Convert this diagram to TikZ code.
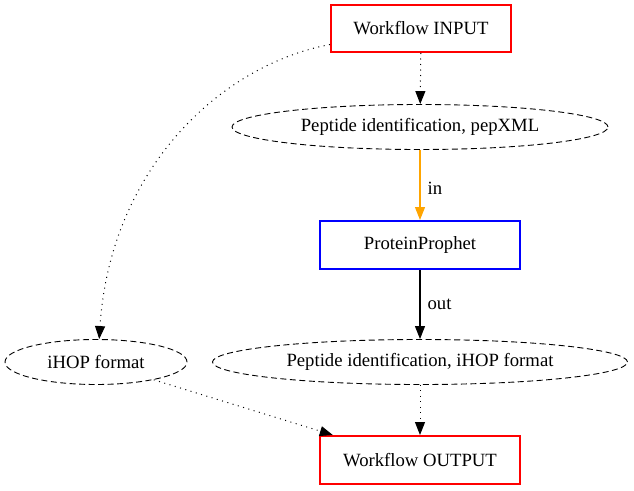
\documentclass[tikz,border=0pt]{standalone}
\usepackage{fontspec}
\setmainfont{Liberation Serif}
\usetikzlibrary{shapes.geometric,arrows.meta}
\definecolor{edgeorange}{RGB}{255,165,0}
\tikzset{
  box/.style={draw, line width=2pt, rectangle, inner sep=0pt, font=\fontsize{18.7}{21}\selectfont},
  ell/.style={draw, ellipse, dashed, dash pattern=on 6pt off 3.5pt, line width=0.9pt, inner sep=0pt, font=\fontsize{18.7}{21}\selectfont},
  tip/.style={-{Triangle[length=13pt,width=10pt]}},
  dotedge/.style={tip, line width=1pt, dash pattern=on 1pt off 4.5pt},
  solidedge/.style={tip, line width=1.1pt},
  lbl/.style={font=\fontsize{18.7}{21}\selectfont, anchor=west, inner sep=0pt}
}
\begin{document}
\begin{tikzpicture}[x=1pt,y=-1pt]
\useasboundingbox (0,0) rectangle (634,490);
\node[box, draw=red, minimum width=180pt, minimum height=47pt] (in) at (421,28.5) {Workflow INPUT};
\node[ell, minimum width=376pt, minimum height=45pt] (pep) at (420,127) {Peptide identification, pepXML};
\node[box, draw=blue, minimum width=200pt, minimum height=48pt] (pp) at (420,245) {ProteinProphet};
\node[ell, minimum width=415pt, minimum height=45pt] (pih) at (420,362) {Peptide identification, iHOP format};
\node[ell, minimum width=182pt, minimum height=45pt] (ihop) at (96,362) {iHOP format};
\node[box, draw=red, minimum width=200pt, minimum height=48pt] (out) at (420,460) {Workflow OUTPUT};

\draw[dotedge] (in) -- (pep);
\draw[solidedge, draw=edgeorange, fill=edgeorange] (pep) -- node[lbl, pos=0.55, xshift=7pt] {in} (pp);
\draw[solidedge] (pp) -- node[lbl, pos=0.5, xshift=7pt] {out} (pih);
\draw[dotedge] (pih) -- (out);
\draw[dotedge] (in.190) .. controls (220,65) and (110,170) .. (ihop.82);
\draw[dotedge] (ihop) -- (out.164);
\end{tikzpicture}
\end{document}
